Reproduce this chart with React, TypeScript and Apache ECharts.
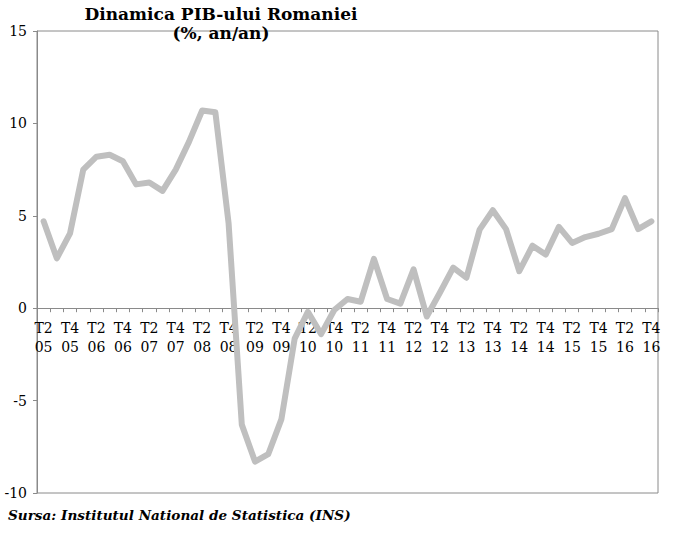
import React, { useEffect, useRef } from "react";
import * as echarts from "echarts";

const quarters: string[] = [
  "T2\n05", "T3\n05", "T4\n05",
  "T1\n06", "T2\n06", "T3\n06", "T4\n06",
  "T1\n07", "T2\n07", "T3\n07", "T4\n07",
  "T1\n08", "T2\n08", "T3\n08", "T4\n08",
  "T1\n09", "T2\n09", "T3\n09", "T4\n09",
  "T1\n10", "T2\n10", "T3\n10", "T4\n10",
  "T1\n11", "T2\n11", "T3\n11", "T4\n11",
  "T1\n12", "T2\n12", "T3\n12", "T4\n12",
  "T1\n13", "T2\n13", "T3\n13", "T4\n13",
  "T1\n14", "T2\n14", "T3\n14", "T4\n14",
  "T1\n15", "T2\n15", "T3\n15", "T4\n15",
  "T1\n16", "T2\n16", "T3\n16", "T4\n16",
];

const gdpGrowth: number[] = [
  4.7, 2.7, 4.05,
  7.5, 8.2, 8.3, 7.95,
  6.7, 6.8, 6.35, 7.5,
  9.0, 10.7, 10.6, 4.6,
  -6.3, -8.3, -7.9, -6.0,
  -1.65, -0.2, -1.4, -0.1,
  0.5, 0.35, 2.67, 0.5,
  0.25, 2.1, -0.45, 0.85,
  2.2, 1.65, 4.25, 5.3,
  4.28, 2.0, 3.38, 2.9,
  4.4, 3.53, 3.85, 4.03,
  4.28, 5.96, 4.28, 4.7,
];

const yTicks = { min: -10, max: 15, interval: 5 };

const titleLines: string[] = ["Dinamica PIB-ului Romaniei", "(%, an/an)"];
const sourceNote = "Sursa: Institutul National de Statistica (INS)";

export default function App() {
  const ref = useRef<HTMLDivElement>(null);
  useEffect(() => {
    if (!ref.current) return;
    const chart = echarts.init(ref.current, undefined, { renderer: "svg" });
    const serif = "DejaVu Serif";
    const gridTop = 31;
    const gridBottom = 43;
    const plotH = 536 - gridTop - gridBottom;
    // distance of the zero line above the plot bottom, from the axis range
    const zeroOffset = (plotH * (0 - yTicks.min)) / (yTicks.max - yTicks.min);
    chart.setOption({
      animation: false,
      backgroundColor: "#ffffff",
      grid: {
        left: 37,
        right: 28,
        top: gridTop,
        bottom: gridBottom,
        show: true,
        borderColor: "#8a8a8a",
        borderWidth: 1,
        backgroundColor: "transparent",
      },
      graphic: [
        {
          type: "text",
          x: 221,
          y: 14,
          style: {
            text: titleLines[0],
            font: `bold 17px '${serif}'`,
            fill: "#000",
            textAlign: "center",
            textVerticalAlign: "middle",
          },
        },
        {
          type: "text",
          x: 221,
          y: 33,
          style: {
            text: titleLines[1],
            font: `bold 17px '${serif}'`,
            fill: "#000",
            textAlign: "center",
            textVerticalAlign: "middle",
          },
        },
        {
          type: "text",
          x: 8,
          y: 515,
          style: {
            text: sourceNote,
            font: `italic bold 13.6px '${serif}'`,
            fill: "#000",
            textAlign: "left",
            textVerticalAlign: "middle",
          },
        },
      ],
      xAxis: {
        type: "category",
        data: quarters,
        boundaryGap: true,
        position: "bottom",
        offset: -zeroOffset,
        axisLine: { onZero: false, lineStyle: { color: "#8a8a8a", width: 1 } },
        axisTick: { show: true, interval: 0, length: 4, lineStyle: { color: "#8a8a8a" } },
        axisLabel: {
          interval: 1,
          color: "#000",
          fontFamily: serif,
          fontSize: 14,
          lineHeight: 19,
          margin: 10,
        },
        splitLine: { show: false },
      },
      yAxis: {
        type: "value",
        min: yTicks.min,
        max: yTicks.max,
        interval: yTicks.interval,
        axisLine: { show: true, lineStyle: { color: "#8a8a8a", width: 1 } },
        axisTick: { show: true, length: 4, lineStyle: { color: "#8a8a8a" } },
        axisLabel: {
          color: "#000",
          fontFamily: serif,
          fontSize: 14,
          margin: 10,
        },
        splitLine: { show: false },
      },
      series: [
        {
          type: "line",
          data: gdpGrowth,
          showSymbol: false,
          symbol: "none",
          z: 5,
          lineStyle: { color: "#bfbfbf", width: 6, join: "round", cap: "round" },
          itemStyle: { color: "#bfbfbf" },
        },
      ],
    });
    return () => chart.dispose();
  }, []);
  return <div ref={ref} style={{ width: 686, height: 536, position: "absolute", left: 0, top: 0 }} />;
}
